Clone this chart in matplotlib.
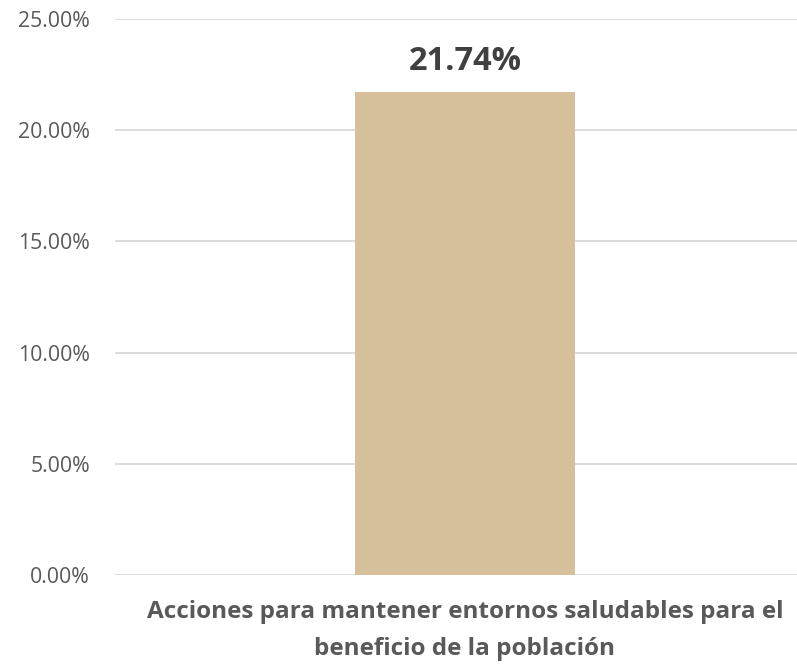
import matplotlib
matplotlib.use("Agg")
import matplotlib.pyplot as plt
from matplotlib.ticker import FuncFormatter

plt.rcParams['font.family'] = ['Open Sans', 'DejaVu Sans']

categories = ['Acciones para mantener entornos saludables para el\nbeneficio de la población']
values = [21.74]
yticks = [0, 5, 10, 15, 20, 25]

fig = plt.figure(figsize=(7.97, 6.64), dpi=100)
ax = fig.add_axes([115 / 797, 1 - 575 / 664, 682 / 797, 556 / 664])

ax.bar(range(len(categories)), values, width=0.3226, color='#d5c09b', zorder=3)
for i, v in enumerate(values):
    ax.text(i, v + 0.95, f'{v:.2f}%', ha='center', va='baseline',
            fontsize=23.5, fontweight='bold', color='#404040')

ax.set_xlim(-0.513, 0.487)
ax.set_ylim(0, 25)
ax.set_yticks(yticks)
ax.yaxis.set_major_formatter(FuncFormatter(lambda v, p: f'{v:.2f}%'))
ax.grid(axis='y', color='#d9d9d9', linewidth=1.3, zorder=0)
for s in ax.spines.values():
    s.set_visible(False)
ax.tick_params(axis='y', length=0, pad=18, labelsize=15.3, labelcolor='#595959')
ax.tick_params(axis='x', length=0, pad=18)
ax.set_xticks(range(len(categories)))
ax.set_xticklabels(categories, fontsize=17.5, fontweight='bold', color='#595959',
                   linespacing=1.72)

fig.savefig('out.png', dpi=100)
